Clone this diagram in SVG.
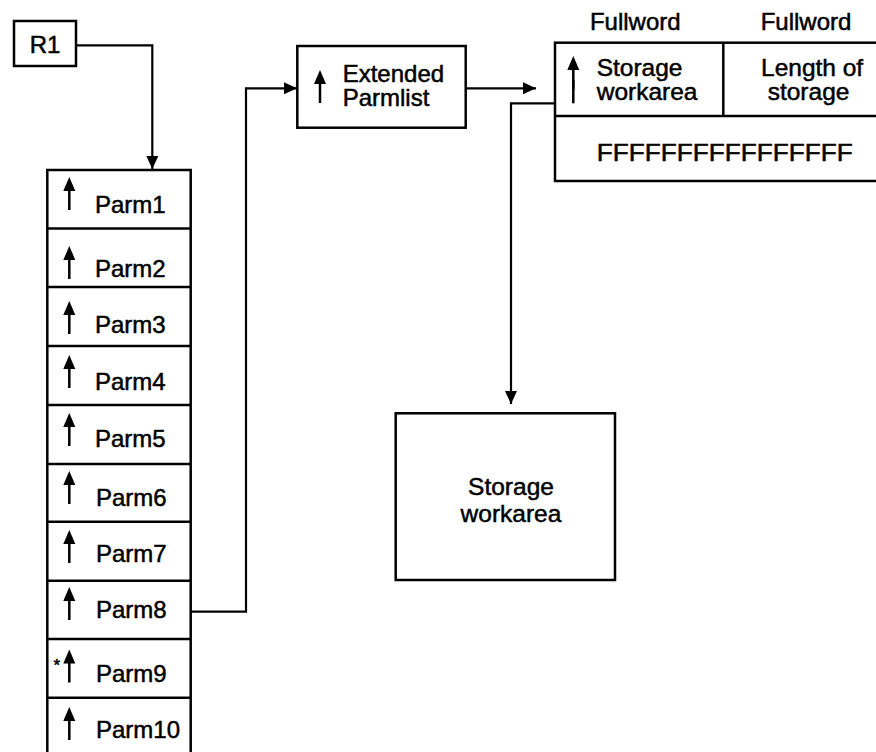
<svg xmlns="http://www.w3.org/2000/svg" width="876" height="752" viewBox="0 0 876 752">
<style>
  .box { fill: #fff; stroke: #000; stroke-width: 2.5; }
  .ln { fill: none; stroke: #000; stroke-width: 2.5; }
  .conn { fill: none; stroke: #000; stroke-width: 2.2; }
  text { font-family: "Liberation Sans", Arial, Helvetica, sans-serif; fill: #000; stroke: #000; stroke-width: 0.5; }
  .t24 { font-size: 24px; }
  .t25 { font-size: 24.5px; }
  .mid { text-anchor: middle; }
</style>
<defs>
  <marker id="ah" markerUnits="userSpaceOnUse" markerWidth="14" markerHeight="12" refX="13" refY="6" orient="auto">
    <path d="M0,0 L13,6 L0,12 Z" fill="#000"/>
  </marker>
  <g id="up">
    <path d="M0,0 L-6,14 L6,14 Z" fill="#000"/>
    <line x1="0" y1="12" x2="0" y2="33" stroke="#000" stroke-width="2.5"/>
  </g>
</defs>
<rect width="876" height="752" fill="#fff"/>

<g id="connectors">
  <polyline class="conn" points="76,45.3 152.3,45.3 152.3,169" marker-end="url(#ah)"/>
  <polyline class="conn" points="190.7,611.7 246,611.7 246,88.3 297,88.3" marker-end="url(#ah)"/>
  <polyline class="conn" points="465.7,88.3 536,88.3" marker-end="url(#ah)"/>
  <polyline class="conn" points="555,103.3 511,103.3 511,404" marker-end="url(#ah)"/>
</g>

<g id="r1">
  <rect class="box" x="14" y="21" width="62" height="45"/>
  <text class="t24 mid" x="45" y="53">R1</text>
</g>

<g id="parmlist">
  <rect class="box" x="47.3" y="170" width="143.4" height="590"/>
  <line class="ln" x1="47.3" y1="228.5" x2="190.7" y2="228.5"/>
  <line class="ln" x1="47.3" y1="287" x2="190.7" y2="287"/>
  <line class="ln" x1="47.3" y1="346" x2="190.7" y2="346"/>
  <line class="ln" x1="47.3" y1="405" x2="190.7" y2="405"/>
  <line class="ln" x1="47.3" y1="464" x2="190.7" y2="464"/>
  <line class="ln" x1="47.3" y1="521.7" x2="190.7" y2="521.7"/>
  <line class="ln" x1="47.3" y1="580.7" x2="190.7" y2="580.7"/>
  <line class="ln" x1="47.3" y1="639" x2="190.7" y2="639"/>
  <line class="ln" x1="47.3" y1="697.7" x2="190.7" y2="697.7"/>

  <use href="#up" x="69.3" y="177"/>
  <text class="t24" x="95" y="212.7">Parm1</text>
  <use href="#up" x="69.3" y="246"/>
  <text class="t24" x="95" y="276.7">Parm2</text>
  <use href="#up" x="69.3" y="301"/>
  <text class="t24" x="95" y="333">Parm3</text>
  <use href="#up" x="69.3" y="355"/>
  <text class="t24" x="95" y="390">Parm4</text>
  <use href="#up" x="69.3" y="413"/>
  <text class="t24" x="95" y="447">Parm5</text>
  <use href="#up" x="69.3" y="471"/>
  <text class="t24" x="96" y="506">Parm6</text>
  <use href="#up" x="69.3" y="530"/>
  <text class="t24" x="96" y="561.7">Parm7</text>
  <use href="#up" x="69.3" y="587"/>
  <text class="t24" x="96" y="618">Parm8</text>
  <use href="#up" x="69.3" y="649.5"/>
  <text style="font-size:17px" x="53.5" y="671">*</text>
  <text class="t24" x="96" y="681.7">Parm9</text>
  <use href="#up" x="69.3" y="707"/>
  <text class="t24" x="96" y="738">Parm10</text>
</g>

<g id="extended">
  <rect class="box" x="297.3" y="46" width="168.4" height="81.7"/>
  <use href="#up" x="320" y="70"/>
  <text class="t24" x="342.7" y="81.7">Extended</text>
  <text class="t24" x="342.7" y="106">Parmlist</text>
</g>

<g id="table">
  <text class="t24 mid" x="635.3" y="30">Fullword</text>
  <text class="t24 mid" x="806" y="30">Fullword</text>
  <rect class="box" x="555" y="42.7" width="330" height="138.3"/>
  <line class="ln" x1="555" y1="116" x2="885" y2="116"/>
  <line class="ln" x1="723.3" y1="42.7" x2="723.3" y2="116"/>
  <use href="#up" x="573.3" y="56"/>
  <line x1="573.3" y1="80" x2="573.3" y2="103.3" stroke="#000" stroke-width="2.5"/>
  <text class="t25" x="596.7" y="76">Storage</text>
  <text class="t25" x="596.7" y="100">workarea</text>
  <text class="t25" x="761" y="76">Length of</text>
  <text class="t25" x="767.7" y="100">storage</text>
  <text class="t24" x="596.7" y="160.7" textLength="256" lengthAdjust="spacingAndGlyphs">FFFFFFFFFFFFFFFF</text>
</g>

<g id="storage">
  <rect class="box" x="395.7" y="413.3" width="219.3" height="166.7"/>
  <text class="t25 mid" x="511" y="495">Storage</text>
  <text class="t25 mid" x="511" y="521.7">workarea</text>
</g>
</svg>
